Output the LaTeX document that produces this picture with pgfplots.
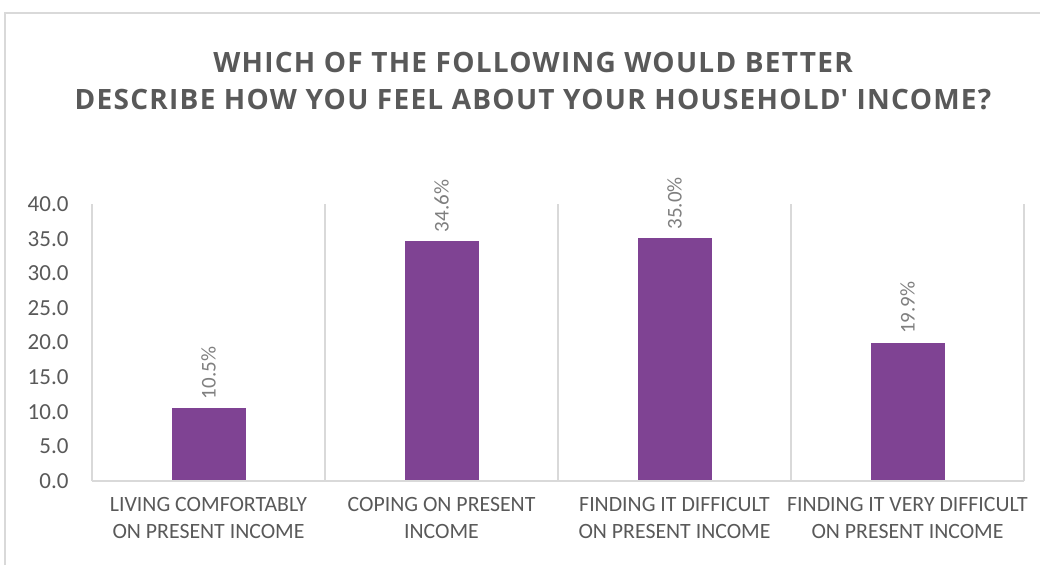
\documentclass[border=0pt]{standalone}
\usepackage{pgfplots}
\pgfplotsset{compat=1.18}
\usepackage{fontspec}
\setmainfont{Carlito}
\newfontfamily\titlefont[LetterSpace=4.5]{Open Sans}
\definecolor{barc}{HTML}{7F4393}
\definecolor{txt}{HTML}{595959}
\definecolor{lbl}{HTML}{7F7F7F}
\definecolor{grd}{HTML}{D9D9D9}
\begin{document}
\begin{tikzpicture}[x=1pt,y=1pt]
\path[use as bounding box] (0,0) rectangle (1040,565);
\draw[grd, line width=1.5pt] (5,0) -- (5,552) -- (1040,552);
\node[txt, font=\fontsize{28}{34}\titlefont\bfseries] at (533,503) {WHICH OF THE FOLLOWING WOULD BETTER};
\node[txt, font=\fontsize{28}{34}\titlefont\bfseries] at (533,465) {DESCRIBE HOW YOU FEEL ABOUT YOUR HOUSEHOLD\textquotesingle{} INCOME?};
\begin{axis}[
  at={(92pt,84pt)}, anchor=south west,
  scale only axis, width=932pt, height=277pt,
  xmin=0, xmax=4, ymin=0, ymax=40,
  ytick={0,5,...,40},
  /pgf/number format/fixed,
  /pgf/number format/fixed zerofill,
  /pgf/number format/precision=1,
  /pgf/number format/assume math mode=true,
  tick label style={txt, font=\fontsize{23}{26}\selectfont},
  xtick={0.5,1.5,2.5,3.5},
  xticklabels={{LIVING COMFORTABLY\\ON PRESENT INCOME},{COPING ON PRESENT\\INCOME},{FINDING IT DIFFICULT\\ON PRESENT INCOME},{FINDING IT VERY DIFFICULT\\ON PRESENT INCOME}},
  xticklabel style={align=center, font=\fontsize{21.8}{27}\selectfont, yshift=-13pt},
  minor xtick={0,1,2,3,4},
  xminorgrids, minor grid style={grd, line width=1.2pt},
  major tick length=0pt, minor tick length=0pt,
  axis line style={draw=none},
  axis x line*=bottom,
  axis y line*=left,
  ytick style={draw=none}, xtick style={draw=none},
  yticklabel style={xshift=-20pt},
  ybar, bar width=73pt,
  nodes near coords={\pgfmathprintnumber{\pgfplotspointmeta}\%},
  nodes near coords style={lbl, font=\fontsize{21}{24}\selectfont, rotate=90, anchor=west, inner xsep=9pt},
  clip=false,
]
\addplot[fill=barc, draw=barc] coordinates {(0.5,10.5) (1.5,34.6) (2.5,35.0) (3.5,19.9)};
\draw[grd, line width=1.5pt] (axis cs:0,0) -- (axis cs:4,0);
\end{axis}
\end{tikzpicture}
\end{document}
